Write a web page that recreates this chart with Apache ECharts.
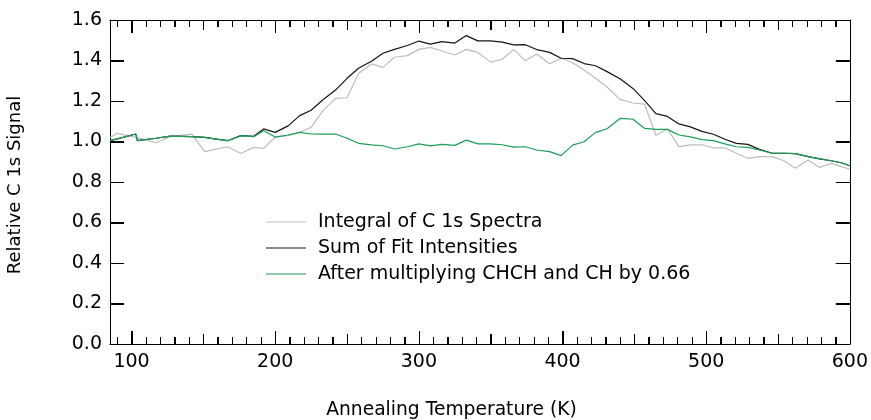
<!DOCTYPE html>
<html>
<head>
<meta charset="utf-8">
<script src="https://cdn.jsdelivr.net/npm/echarts@6/dist/echarts.min.js"></script>
<style>
html,body{margin:0;padding:0;background:#fff;}
#chart{width:871px;height:420px;}
</style>
</head>
<body>
<div id="chart"></div>
<script>
// Annealing temperature (K)
const temps = [85, 90, 103, 104, 117, 127, 142, 151, 159, 167, 176, 185, 192, 200, 209, 217, 225, 233, 242, 250,
  258, 267, 275, 283, 292, 300, 308, 316, 325, 333, 341, 350, 358, 366, 374, 382, 391, 399, 407, 415,
  423, 431, 440, 449, 457, 465, 473, 481, 489, 497, 505, 513, 521, 529, 537, 546, 554, 562, 571, 579,
  587, 594, 600];
// Integral of C 1s Spectra
const integralC1s = [1.02, 1.04, 1.02, 1.02, 0.994, 1.024, 1.036, 0.95, 0.962, 0.974, 0.941, 0.971, 0.966, 1.022, 1.029, 1.045, 1.07, 1.15, 1.213, 1.216,
  1.336, 1.383, 1.366, 1.416, 1.424, 1.455, 1.465, 1.447, 1.427, 1.455, 1.44, 1.392, 1.406, 1.455, 1.399, 1.432, 1.384, 1.411, 1.389, 1.353,
  1.312, 1.269, 1.208, 1.19, 1.185, 1.03, 1.062, 0.975, 0.983, 0.984, 0.969, 0.969, 0.942, 0.917, 0.925, 0.925, 0.905, 0.868, 0.909, 0.872,
  0.892, 0.876, 0.863];
// Sum of Fit Intensities
const sumFit = [1.004, 1.013, 1.037, 1.004, 1.016, 1.027, 1.024, 1.02, 1.012, 1.004, 1.029, 1.026, 1.062, 1.045, 1.077, 1.128, 1.154, 1.205, 1.254, 1.312,
  1.362, 1.396, 1.436, 1.455, 1.474, 1.496, 1.481, 1.493, 1.486, 1.523, 1.497, 1.497, 1.491, 1.477, 1.478, 1.454, 1.44, 1.411, 1.409, 1.385,
  1.374, 1.345, 1.31, 1.262, 1.203, 1.138, 1.124, 1.087, 1.072, 1.05, 1.036, 1.011, 0.991, 0.986, 0.961, 0.942, 0.942, 0.94, 0.925, 0.914,
  0.905, 0.895, 0.88];
// After multiplying CHCH and CH by 0.66
const afterMult = [1.004, 1.013, 1.037, 1.004, 1.016, 1.027, 1.024, 1.02, 1.012, 1.004, 1.029, 1.024, 1.053, 1.022, 1.032, 1.045, 1.037, 1.036, 1.037, 1.016,
  0.991, 0.983, 0.979, 0.963, 0.974, 0.988, 0.978, 0.986, 0.981, 1.007, 0.988, 0.988, 0.984, 0.972, 0.974, 0.958, 0.95, 0.93, 0.982, 0.999,
  1.045, 1.063, 1.114, 1.11, 1.065, 1.06, 1.06, 1.032, 1.023, 1.009, 1.004, 0.988, 0.974, 0.971, 0.958, 0.942, 0.942, 0.94, 0.925, 0.914,
  0.905, 0.895, 0.88];

const seriesNames = ['Integral of C 1s Spectra', 'Sum of Fit Intensities', 'After multiplying CHCH and CH by 0.66'];
const xMajorTicks = [100, 200, 300, 400, 500, 600];
const xMidTicks = [150, 250, 350, 450, 550];
const xMinorTicks = [90, 110, 120, 130, 140, 160, 170, 180, 190, 210, 220, 230, 240, 260, 270, 280, 290,
  310, 320, 330, 340, 360, 370, 380, 390, 410, 420, 430, 440, 460, 470, 480, 490,
  510, 520, 530, 540, 560, 570, 580, 590];
const yTicks = [0, 0.2, 0.4, 0.6, 0.8, 1.0, 1.2, 1.4, 1.6];

const FONT = 'DejaVu Sans';
const X_MIN = 85, X_MAX = 600, Y_MIN = 0, Y_MAX = 1.6;
const chart = echarts.init(document.getElementById('chart'));

function xAx(position, ticks, len, showLine, showLabel) {
  return {
    type: 'value', min: X_MIN, max: X_MAX, position: position,
    axisLine: {show: showLine, onZero: false, lineStyle: {color: '#000', width: 1}},
    axisTick: {show: true, inside: true, length: len, customValues: ticks, lineStyle: {color: '#000', width: 1}},
    axisLabel: showLabel ? {show: true, customValues: ticks, fontFamily: FONT, fontSize: 19, color: '#000', margin: 9,
      formatter: v => String(v)} : {show: false},
    splitLine: {show: false}
  };
}
function yAx(position, showLabel) {
  return {
    type: 'value', min: Y_MIN, max: Y_MAX, position: position,
    axisLine: {show: true, onZero: false, lineStyle: {color: '#000', width: 1}},
    axisTick: {show: true, inside: true, length: 14, customValues: yTicks, lineStyle: {color: '#000', width: 1}},
    axisLabel: showLabel ? {show: true, customValues: yTicks, fontFamily: FONT, fontSize: 19, color: '#000', margin: 8,
      formatter: v => Number(v).toFixed(1)} : {show: false},
    splitLine: {show: false}
  };
}

function mk(name, arr, color, z) {
  return {
    name: name, type: 'line', xAxisIndex: 0, yAxisIndex: 0,
    data: temps.map((t, i) => [t, arr[i]]),
    symbol: 'none', z: z,
    lineStyle: {color: color, width: 1.2},
    itemStyle: {color: color}
  };
}

// Mirrored inside ticks on all four sides, positioned through the axes' own scales.
// Each entry: [tick value, 0, kind]  (kind 0 = x major, 1 = x mid, 2 = x minor, 3 = y)
const tickKinds = [].concat(
  xMajorTicks.map(v => [v, 0, 0]), xMidTicks.map(v => [v, 0, 1]), xMinorTicks.map(v => [v, 0, 2]), yTicks.map(v => [v, 0, 3]));
const tickLen = [13, 10, 7, 14];
const tickSeries = {
  type: 'custom', name: '_ticks', xAxisIndex: 0, yAxisIndex: 0, silent: true, z: 10,
  legendHoverLink: false, clip: false,
  dimensions: ['v', 'zero', 'kind'],
  encode: {x: 0, y: 1},
  data: tickKinds,
  renderItem: function (params, api) {
    const v = api.value(0), k = api.value(2), L = tickLen[k];
    const st = {stroke: '#000', lineWidth: 1};
    if (k < 3) {
      const b = api.coord([v, Y_MIN]), t = api.coord([v, Y_MAX]);
      const x = Math.round(b[0]) + 0.5;
      return {type: 'group', children: [
        {type: 'line', shape: {x1: x, y1: b[1], x2: x, y2: b[1] - L}, style: st},
        {type: 'line', shape: {x1: x, y1: t[1], x2: x, y2: t[1] + L}, style: st}
      ]};
    }
    const l = api.coord([X_MIN, v]), r = api.coord([X_MAX, v]);
    const y = Math.round(l[1]) + 0.5;
    return {type: 'group', children: [
      {type: 'line', shape: {x1: l[0], y1: y, x2: l[0] + L, y2: y}, style: st},
      {type: 'line', shape: {x1: r[0], y1: y, x2: r[0] - L, y2: y}, style: st}
    ]};
  }
};

chart.setOption({
  animation: false,
  grid: {left: 110, right: 20, top: 20, bottom: 76},
  xAxis: [
    xAx('bottom', xMajorTicks, 13, true, true),
    xAx('bottom', xMidTicks, 10, false, false),
    xAx('bottom', xMinorTicks, 7, false, false),
    xAx('top', xMajorTicks, 13, true, false),
    xAx('top', xMidTicks, 10, false, false),
    xAx('top', xMinorTicks, 7, false, false)
  ],
  yAxis: [yAx('left', true), yAx('right', false)],
  legend: {
    orient: 'vertical', left: 261, top: 207,
    itemWidth: 40, itemHeight: 14, itemGap: 6,
    icon: 'path://M0,0 L40,0 L40,1 L0,1 Z',
    data: seriesNames,
    textStyle: {fontFamily: FONT, fontSize: 19, color: '#000', lineHeight: 20, padding: [0, 0, 0, 7]}
  },
  graphic: [
    {type: 'text', x: 451.5, y: 410, silent: true,
      style: {text: 'Annealing Temperature (K)', font: '18.7px "DejaVu Sans"', fill: '#000', textAlign: 'center', textVerticalAlign: 'middle'}},
    {type: 'text', rotation: Math.PI / 2, x: 15, y: 185, silent: true,
      style: {text: 'Relative C 1s Signal', font: '18px "DejaVu Sans"', fill: '#000', textAlign: 'center', textVerticalAlign: 'middle'}}
  ],
  series: [
    mk(seriesNames[0], integralC1s, '#bdbdbd', 2),
    mk(seriesNames[1], sumFit, '#151515', 3),
    mk(seriesNames[2], afterMult, '#1a9e58', 4),
    tickSeries
  ]
});
</script>
</body>
</html>
